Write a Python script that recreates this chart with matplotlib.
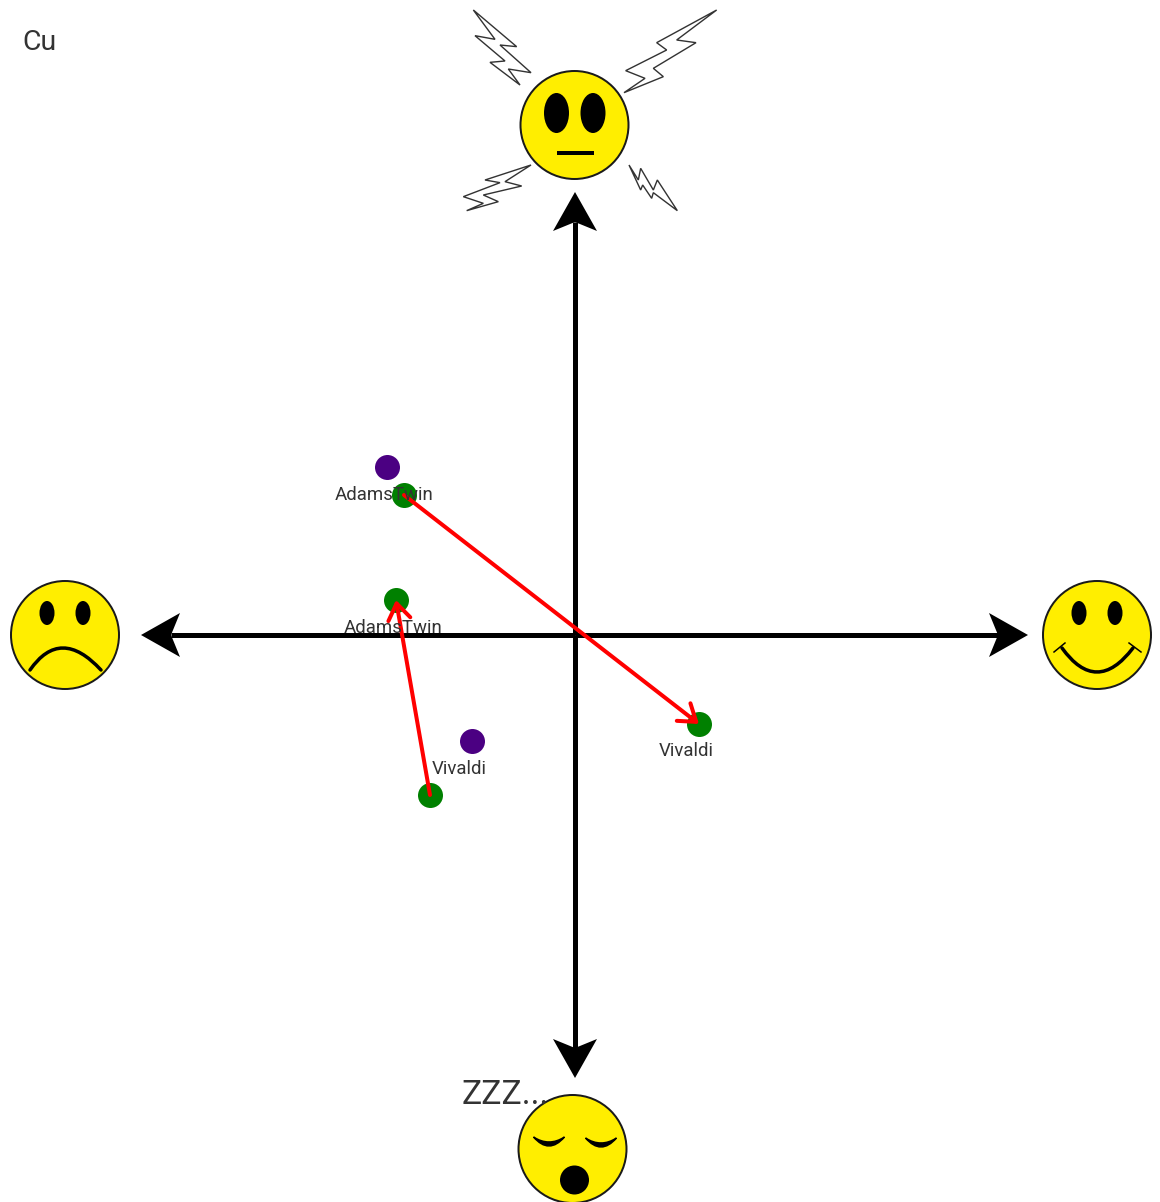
import matplotlib
matplotlib.use("Agg")
import matplotlib.pyplot as plt
from matplotlib.patches import Circle, Ellipse, Polygon, PathPatch
from matplotlib.path import Path

plt.rcParams['font.family'] = ['Roboto', 'DejaVu Sans']

# data, everything is in picture pixels
green_x = [404, 396, 430, 699]
green_y = [495, 600, 795, 724]
purple_x = [387, 472]
purple_y = [467, 741]

label_text = ['AdamsTwin', 'AdamsTwin', 'Vivaldi', 'Vivaldi']
label_x = [384, 393, 459, 686]
label_y = [495, 628, 769, 751]

# moves between the green points, start -> end
move_start = [(430, 795), (404, 495)]
move_end = [(396, 600), (699, 724)]

# axes centre and arrow ends
center_x = 575
center_y = 635
axis_left = 141
axis_right = 1028
axis_top = 192
axis_bottom = 1078

face_names = ['neutral', 'sad', 'happy', 'sleep']
face_x = [574.5, 65, 1097, 572.5]
face_y = [125, 635, 635, 1149]

bolt_top_left = [(70, 30), (200, 140), (150, 135), (243, 218), (175, 207), (210, 255),
                 (120, 187), (165, 183), (75, 107), (135, 118)]
bolt_top_right = [(800, 30), (680, 120), (738, 128), (610, 205), (640, 230), (522, 278),
                  (585, 235), (527, 212), (650, 150), (620, 128)]
bolt_bottom_left = [(243, 495), (105, 540), (150, 548), (40, 590), (100, 610), (50, 632),
                    (145, 605), (100, 585), (215, 558), (165, 545)]
bolt_bottom_right = [(537, 495), (565, 540), (572, 505), (610, 570), (622, 540), (682, 632),
                     (610, 578), (605, 595), (578, 555), (572, 570)]

YELLOW = '#FFEE00'
GREEN = '#008000'
PURPLE = '#4B0082'
TEXT = '#333333'
PX = 72 / 100  # one pixel in points at dpi 100


def curve(ax, p0, mid, p2, width):
    # quadratic curve going through mid
    ctrl = (2 * mid[0] - (p0[0] + p2[0]) / 2, 2 * mid[1] - (p0[1] + p2[1]) / 2)
    path = Path([p0, ctrl, p2], [Path.MOVETO, Path.CURVE3, Path.CURVE3])
    ax.add_patch(PathPatch(path, fc='none', ec='black', lw=width * PX, capstyle='round', zorder=4))


def crescent(ax, p0, p2, sag_top, sag_bottom):
    # closed eyelid shape, thick in the middle and thin at the ends
    mx = (p0[0] + p2[0]) / 2
    my = (p0[1] + p2[1]) / 2
    path = Path([p0, (mx, my + 2 * sag_bottom), p2, (mx, my + 2 * sag_top), p0],
                [Path.MOVETO, Path.CURVE3, Path.CURVE3, Path.CURVE3, Path.CURVE3])
    ax.add_patch(PathPatch(path, fc='black', ec='black', lw=1.5 * PX, zorder=4))


def draw_face(ax, kind, cx, cy):
    ax.add_patch(Circle((cx, cy), 54, fc=YELLOW, ec='#1a1a1a', lw=2 * PX, zorder=3))
    if kind == 'neutral':
        ax.add_patch(Ellipse((cx - 18, cy - 12), 25, 40, fc='black', zorder=4))
        ax.add_patch(Ellipse((cx + 18.5, cy - 12), 25, 40, fc='black', zorder=4))
        ax.plot([cx - 18, cx + 19], [cy + 28, cy + 28], color='black', lw=4 * PX, zorder=4,
                solid_capstyle='butt')
    elif kind == 'sad':
        ax.add_patch(Ellipse((cx - 18, cy - 22), 15, 24, fc='black', zorder=4))
        ax.add_patch(Ellipse((cx + 18, cy - 22), 15, 24, fc='black', zorder=4))
        curve(ax, (cx - 35, cy + 35), (cx - 2, cy + 13), (cx + 36, cy + 35), 3.5)
    elif kind == 'happy':
        ax.add_patch(Ellipse((cx - 18, cy - 22), 15, 24, fc='black', zorder=4))
        ax.add_patch(Ellipse((cx + 18, cy - 22), 15, 24, fc='black', zorder=4))
        curve(ax, (cx - 35, cy + 13), (cx, cy + 37), (cx + 36, cy + 13), 3.5)
        ax.plot([cx - 43, cx - 32], [cy + 17, cy + 8], color='black', lw=1.5 * PX, zorder=4)
        ax.plot([cx + 44, cx + 32], [cy + 17, cy + 8], color='black', lw=1.5 * PX, zorder=4)
    else:
        crescent(ax, (cx - 39, cy - 12), (cx - 8, cy - 12), 5, 9)
        crescent(ax, (cx + 13, cy - 11), (cx + 44, cy - 11), 5, 9)
        ax.add_patch(Circle((cx + 2, cy + 31), 14.5, fc='black', zorder=4))


def draw_bolt(ax, points):
    xy = [(450 + x / 3, y / 3) for x, y in points]
    ax.add_patch(Polygon(xy, closed=True, fc='white', ec='#333333', lw=1.4 * PX, zorder=2))


def draw_axis_arrow(ax, x0, y0, x1, y1):
    # black shaft with a swept back head at (x1, y1)
    length = ((x1 - x0) ** 2 + (y1 - y0) ** 2) ** 0.5
    ux, uy = (x1 - x0) / length, (y1 - y0) / length
    nx, ny = -uy, ux
    notch = (x1 - 30 * ux, y1 - 30 * uy)
    ax.plot([x0, notch[0]], [y0, notch[1]], color='black', lw=5 * PX, zorder=1,
            solid_capstyle='butt')
    head = [(x1, y1),
            (x1 - 39 * ux + 22 * nx, y1 - 39 * uy + 22 * ny),
            notch,
            (x1 - 39 * ux - 22 * nx, y1 - 39 * uy - 22 * ny)]
    ax.add_patch(Polygon(head, closed=True, fc='black', ec='none', zorder=1))


fig = plt.figure(figsize=(11.6, 12.02), dpi=100)
ax = fig.add_axes([0, 0, 1, 1])
ax.set_xlim(0, 1160)
ax.set_ylim(1202, 0)
ax.axis('off')

draw_axis_arrow(ax, center_x, center_y, axis_left, center_y)
draw_axis_arrow(ax, center_x, center_y, axis_right, center_y)
draw_axis_arrow(ax, center_x, center_y, center_x, axis_top)
draw_axis_arrow(ax, center_x, center_y, center_x, axis_bottom)

for bolt in [bolt_top_left, bolt_top_right, bolt_bottom_left, bolt_bottom_right]:
    draw_bolt(ax, bolt)

for name, fx, fy in zip(face_names, face_x, face_y):
    draw_face(ax, name, fx, fy)

size = (25 * PX) ** 2
ax.scatter(green_x, green_y, s=size, c=GREEN, linewidths=0, zorder=5)
ax.scatter(purple_x, purple_y, s=size, c=PURPLE, linewidths=0, zorder=5)

for start, end in zip(move_start, move_end):
    ax.annotate('', xy=end, xytext=start, zorder=6,
                arrowprops=dict(arrowstyle='->,head_length=11.5,head_width=8', mutation_scale=1,
                                color='#FF0000', lw=4 * PX, shrinkA=0, shrinkB=0))

for text, lx, ly in zip(label_text, label_x, label_y):
    ax.text(lx, ly, text, fontsize=13.4, color=TEXT, ha='center', va='center', zorder=7)

ax.text(22, 43, 'Cu', fontsize=20.5, color=TEXT, ha='left', va='center', zorder=7)
ax.text(462, 1095, 'ZZZ...', fontsize=24.4, color=TEXT, ha='left', va='center', zorder=7)

fig.savefig('out.png', dpi=100)
